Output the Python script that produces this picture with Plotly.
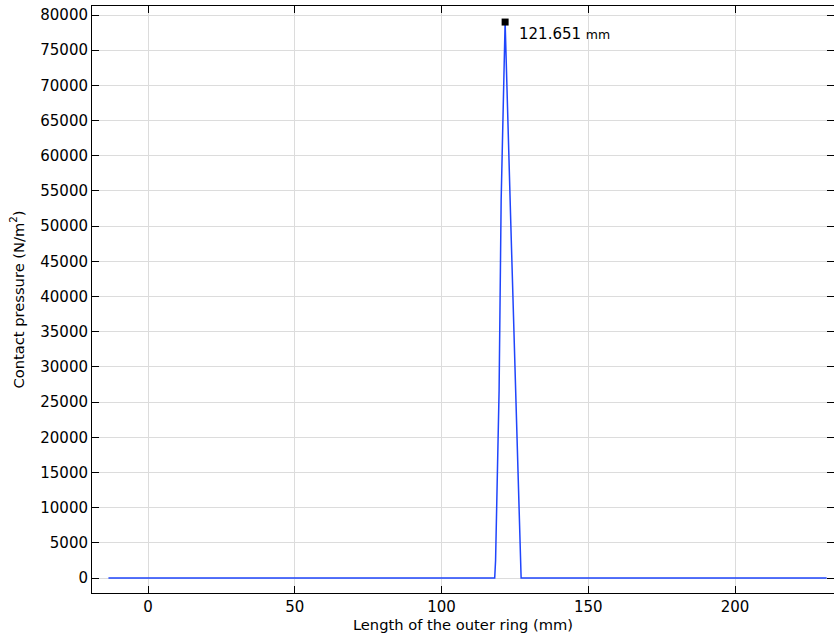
import plotly.graph_objects as go

# Data
x_mm = [-13.5, 0, 25, 50, 75, 100, 118.1, 118.4, 119.6, 120.3, 121.651, 123.5, 125.4, 127.1, 150, 175, 200, 231.2]
pressure = [0, 0, 0, 0, 0, 0, 0, 2500, 26700, 53700, 79000, 51600, 25300, 0, 0, 0, 0, 0]

peak_x = [121.651]
peak_y = [79000]
peak_label = "121.651"
peak_unit = "mm"

x_ticks = [0, 50, 100, 150, 200]
x_tick_text = ["0", "50", "100", "150", "200"]
y_ticks = list(range(0, 80001, 5000))
y_tick_text = [str(v) for v in y_ticks]

font_family = "DejaVu Sans, Verdana, sans-serif"

fig = go.Figure()
fig.add_trace(go.Scatter(x=x_mm, y=pressure, mode="lines",
                         line=dict(color="#1f45fc", width=1.5), showlegend=False,
                         hoverinfo="skip"))
fig.add_trace(go.Scatter(x=peak_x, y=peak_y, mode="markers",
                         marker=dict(symbol="square", color="black", size=7),
                         showlegend=False))
fig.add_annotation(x=peak_x[0], y=peak_y[0], xref="x", yref="y",
                   text=f"{peak_label} <span style='font-size:12.5px'>{peak_unit}</span>",
                   showarrow=False, xanchor="left", yanchor="middle",
                   xshift=12, yshift=-12,
                   font=dict(family=font_family, size=15, color="black"))

axis_common = dict(showline=True, linecolor="black", linewidth=1, mirror="ticks",
                   ticks="inside", ticklen=7, tickcolor="black", automargin=False,
                   showgrid=True, gridcolor="#dcdcdc", gridwidth=1, zeroline=False,
                   tickfont=dict(family=font_family, size=15, color="black"))

fig.update_xaxes(range=[-19.1, 233.7], tickvals=x_ticks, ticktext=x_tick_text,
                 title=dict(text="Length of the outer ring (mm)", standoff=2,
                            font=dict(family=font_family, size=14.7, color="black")),
                 **axis_common)
fig.update_yaxes(range=[-2130, 81280], tickvals=y_ticks, ticktext=y_tick_text,
                 title=dict(text="Contact pressure (N/m<sup>2</sup>)", standoff=12,
                            font=dict(family=font_family, size=14.7, color="black")),
                 **axis_common)

fig.update_layout(width=834, height=637, margin=dict(l=92, r=0, t=6, b=44),
                  paper_bgcolor="white", plot_bgcolor="white",
                  font=dict(family=font_family, size=15, color="black"))

fig.write_html("out.html", config={"displayModeBar": False},
               post_script="document.body.style.margin='0';")
